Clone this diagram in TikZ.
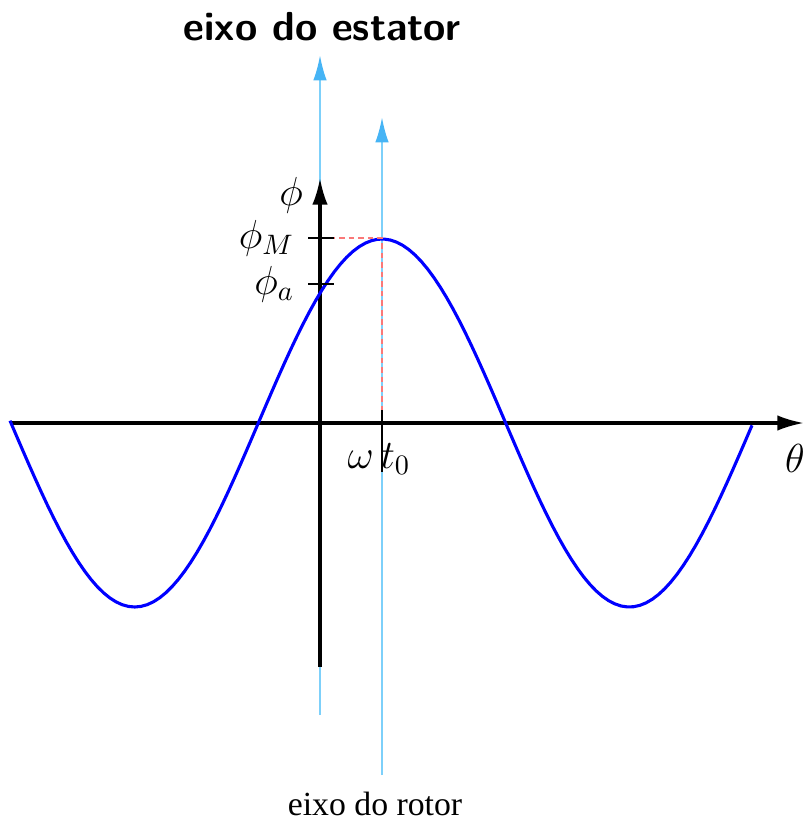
\documentclass[tikz,border=0pt]{standalone}
\usepackage{fontspec}
\newfontfamily\rotorfont{Liberation Serif}
\usetikzlibrary{arrows.meta}
\definecolor{axisblue}{RGB}{125,208,250}
\definecolor{tipblue}{RGB}{70,180,245}
\definecolor{dashred}{RGB}{250,120,120}
\tikzset{
  eixo/.style={axisblue,line width=0.8pt,-{Latex[length=9pt,width=4.8pt,color=tipblue]}},
  eixoxy/.style={line width=1.1pt,-{Latex[length=9.5pt,width=5.5pt]}},
  marca/.style={line width=0.7pt},
  guia/.style={dashred,line width=0.45pt,dash pattern=on 2pt off 1.4pt},
}

\begin{document}
\begin{tikzpicture}[x=0.0125cm,y=-0.0125cm]
  \useasboundingbox (0,0) rectangle (805,827);
  % eixos do estator e do rotor
  \coordinate (est0) at (320,715);
  \coordinate (est1) at (320,55);
  \coordinate (rot0) at (382,775);
  \coordinate (rot1) at (382,117);
  \draw[eixo] (est0) -- (est1);
  \draw[eixo] (rot0) -- (rot1);
  \node[font=\sffamily\bfseries\Large] (estator) at (322,27) {eixo do estator};
  \node[font=\rotorfont\fontsize{12}{14}\selectfont] (rotor) at (375,804) {eixo do rotor};
  % eixos theta e phi
  \coordinate (th0) at (10,423);
  \coordinate (th1) at (804,423);
  \coordinate (ph0) at (320,667);
  \coordinate (ph1) at (320,178);
  \draw[eixoxy] (th0) -- (th1);
  \draw[eixoxy] (ph0) -- (ph1);
  \node[font=\Large,inner sep=1pt] (theta) at (795,458) {$\theta$};
  \node[font=\Large] (phi) at (291,195) {$\phi$};
  % fluxo
  \draw[blue,line width=1.1pt] plot[domain=10:752,samples=120] (\x,{423-184*cos((\x-382)*0.72776)});
  % pico em omega t0
  \coordinate (pico) at (382,238);
  \coordinate (picoy) at (320,238);
  \coordinate (picox) at (382,423);
  \draw[guia] (picoy) -- (pico) -- (picox);
  \foreach \yy/\lab/\nm in {238/M/phiM,284/a/phia}{
    \draw[marca] (308,\yy) -- (334,\yy);
    \node[anchor=east,font=\Large] (\nm) at (304,\yy) {$\phi_\lab$};
  }
  \node[font=\Large] (wt0) at (379,459) {$\omega\,t_0$};
  \draw[marca] (382,410) -- (382,472);
\end{tikzpicture}
\end{document}
